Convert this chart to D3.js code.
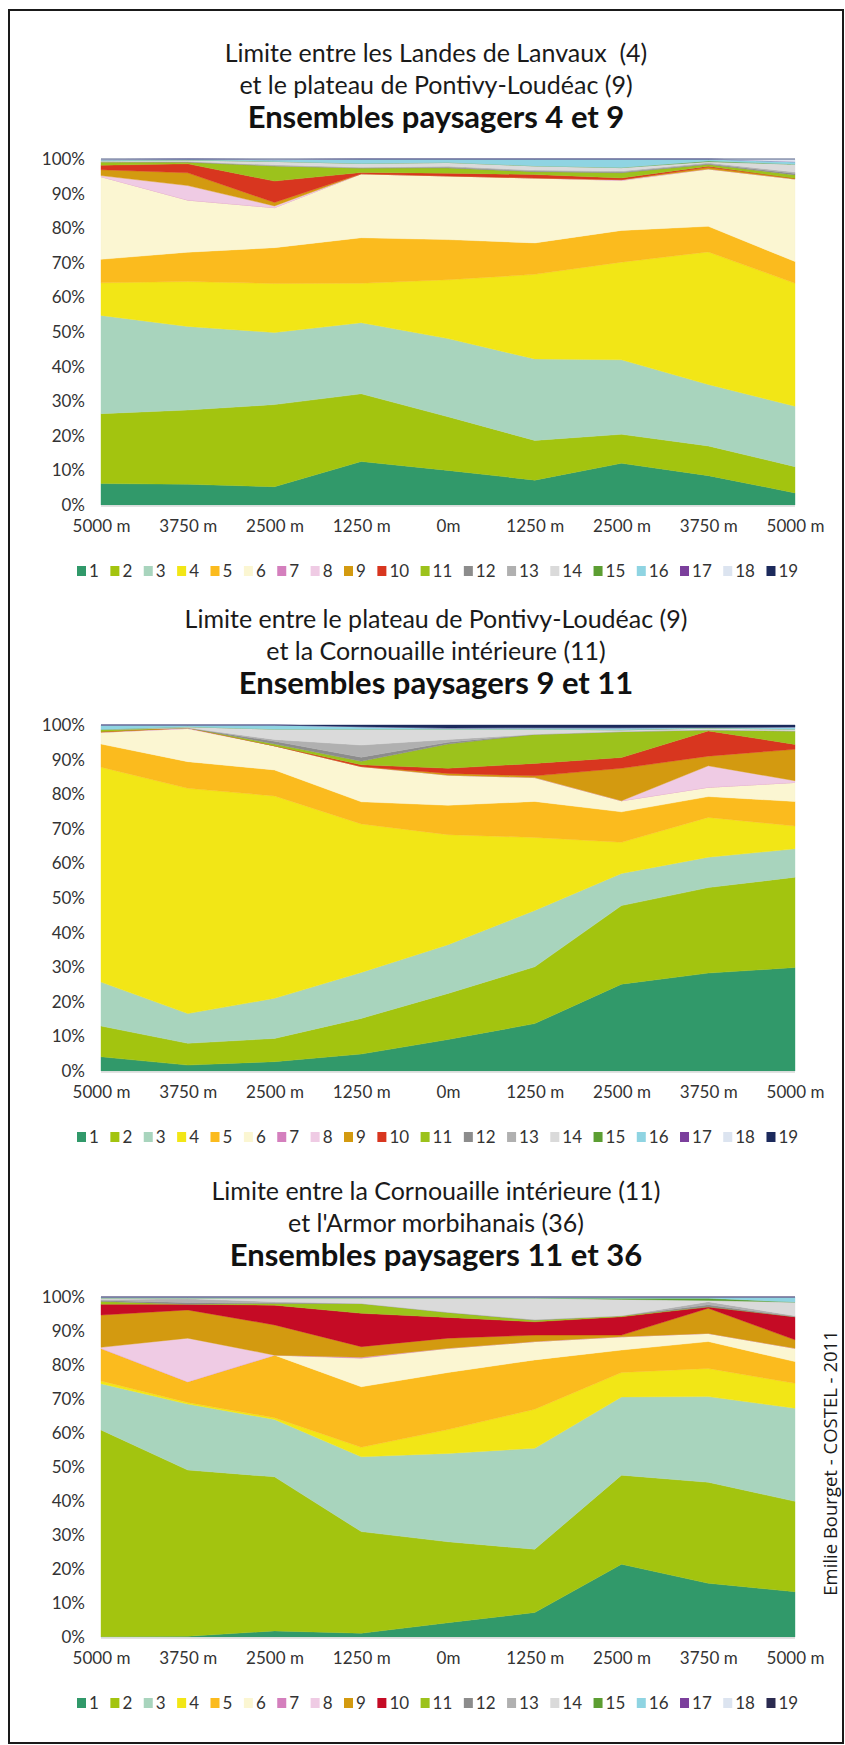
<!DOCTYPE html>
<html>
<head>
<meta charset="utf-8">
<script src="https://cdn.jsdelivr.net/npm/d3@7"></script>
<style>
  html, body { margin: 0; padding: 0; background: #fff; }
  svg { display: block; }
  text { font-family: Lato, "Open Sans", sans-serif; }
</style>
</head>
<body>
<svg id="fig" width="845" height="1745"></svg>
<script>
// Distances from the boundary between two landscape units (transect points)
const distances = ["5000 m", "3750 m", "2500 m", "1250 m", "0m", "1250 m", "2500 m", "3750 m", "5000 m"];

// Land-cover classes 1..19 shown in each legend
const classes = ["1","2","3","4","5","6","7","8","9","10","11","12","13","14","15","16","17","18","19"];

const yTicks = [0, 0.1, 0.2, 0.3, 0.4, 0.5, 0.6, 0.7, 0.8, 0.9, 1];

// Class colours (classes 1..19)
const colorsMain = ["#31996a","#a3c40f","#a8d4bd","#f2e616","#fbbb1e","#fbf6d2","#d47fbd","#efcbe4","#d39a10","#d8361f",
                    "#9cc21c","#8c8c8c","#b0b0b0","#dadada","#5c9e32","#8fd4e2","#7b3f9c","#dce4f0","#1c2a5c"];
const colorsArmor = ["#31996a","#a3c40f","#a8d4bd","#f2e616","#fbbb1e","#fbf6d2","#d47fbd","#efcbe4","#d39a10","#c50b25",
                     "#9cc21c","#8c8c8c","#b0b0b0","#dadada","#5c9e32","#8fd4e2","#7b3f9c","#dce4f0","#2b2b50"];

// Share of each class (%), one row per class, one column per distance
const sharesLanvauxPontivy = [
  [6.2, 6.0, 5.3, 12.6, 10.0, 7.2, 12.1, 8.5, 3.5],
  [20.2, 21.5, 23.8, 19.6, 15.5, 11.5, 8.4, 8.6, 7.6],
  [28.4, 24.2, 20.9, 20.6, 22.6, 23.6, 21.6, 17.8, 17.5],
  [9.4, 13.0, 14.2, 11.4, 17.0, 24.5, 28.3, 38.4, 35.6],
  [6.8, 8.5, 10.4, 13.2, 11.6, 9.1, 9.2, 7.4, 6.3],
  [23.9, 15.1, 11.6, 18.5, 18.4, 18.8, 14.5, 16.6, 23.9],
  [0, 0, 0, 0, 0, 0, 0, 0, 0],
  [0.3, 4.2, 0.5, 0, 0, 0, 0.2, 0, 0],
  [1.7, 3.7, 1.0, 0, 0, 0, 0, 0.5, 0.2],
  [1.3, 2.6, 6.2, 0.4, 0.8, 1.0, 0.5, 0.3, 0],
  [1.0, 0.5, 4.4, 1.3, 1.5, 0.8, 1.5, 0.5, 1.0],
  [0, 0, 0, 0, 0.2, 0.2, 0.2, 0.2, 0.4],
  [0, 0.2, 0.3, 0.2, 0.3, 0.3, 0.3, 0.3, 0.4],
  [0.3, 0.4, 1.0, 1.1, 1.1, 1.2, 1.0, 0.3, 2.3],
  [0, 0, 0, 0, 0, 0, 0, 0.2, 0],
  [0.3, 0.3, 0.5, 1.3, 1.0, 2.0, 2.5, 0.6, 0.7],
  [0, 0, 0, 0, 0, 0, 0, 0, 0],
  [0.2, 0, 0.2, 0, 0, 0, 0, 0, 0.8],
  [0, 0, 0, 0, 0, 0, 0, 0, 0]
];

const sharesPontivyCornouaille = [
  [4.1, 1.7, 2.7, 4.9, 9.1, 13.7, 25.1, 28.3, 29.9],
  [8.9, 6.3, 6.7, 10.3, 13.3, 16.4, 22.7, 24.7, 26.1],
  [12.7, 8.6, 11.6, 13.3, 14.1, 16.3, 9.3, 8.8, 8.2],
  [62.1, 65.1, 58.5, 42.9, 31.8, 21.1, 9.0, 11.5, 6.6],
  [6.7, 7.7, 7.5, 6.4, 8.5, 10.4, 8.8, 6.0, 7.1],
  [3.4, 9.6, 7.0, 10.2, 8.7, 6.9, 3.2, 2.7, 5.5],
  [0, 0, 0, 0, 0, 0, 0, 0, 0],
  [0, 0.2, 0, 0, 0, 0, 0, 6.2, 0.5],
  [0.2, 0, 0, 0, 0.5, 0.5, 9.4, 2.8, 9.1],
  [0, 0, 0, 0.5, 1.5, 3.6, 3.1, 7.3, 1.4],
  [0.6, 0, 0.5, 1.0, 7.0, 8.4, 7.5, 0.3, 3.9],
  [0, 0, 0.8, 1.2, 0.5, 0, 0, 0, 0],
  [0, 0, 0.5, 3.5, 0.8, 0, 0, 0, 0],
  [0, 0.3, 3.0, 4.6, 3.0, 1.5, 0.5, 0.5, 0.5],
  [0, 0, 0, 0, 0, 0, 0, 0, 0],
  [1.3, 0.5, 1.2, 0.7, 0.3, 0.4, 0.6, 0.2, 0.6],
  [0, 0, 0, 0, 0, 0, 0, 0, 0],
  [0, 0, 0, 0, 0, 0, 0, 0, 0],
  [0, 0, 0, 0.5, 0.9, 0.8, 0.8, 0.7, 0.6]
];

const sharesCornouailleArmor = [
  [0.1, 0.2, 1.8, 1.1, 4.2, 7.2, 21.4, 15.8, 13.3],
  [60.8, 48.9, 45.3, 29.9, 23.8, 18.6, 26.2, 29.7, 26.6],
  [13.6, 19.4, 16.9, 22.0, 26.0, 29.7, 23.0, 25.2, 27.4],
  [0.8, 0.5, 0.5, 2.8, 7.0, 11.5, 7.2, 8.3, 7.3],
  [9.6, 6.1, 18.4, 17.8, 16.8, 14.5, 6.6, 7.9, 6.4],
  [0, 0, 0, 8.4, 7.1, 5.4, 3.9, 2.4, 3.9],
  [0, 0, 0, 0.3, 0, 0, 0, 0, 0],
  [0.3, 12.8, 0, 0, 0, 0, 0, 0, 0],
  [9.5, 8.3, 8.9, 3.1, 3.0, 1.9, 0.5, 7.4, 2.5],
  [3.2, 1.7, 5.8, 9.8, 6.1, 3.9, 5.4, 0.4, 6.8],
  [0.8, 0, 0.5, 2.9, 1.5, 0.5, 0.3, 0, 0],
  [0.3, 0.5, 0.2, 0, 0, 0, 0, 0.6, 0],
  [0.3, 1.1, 0.3, 0, 0, 0.2, 0, 0.9, 0.3],
  [0.4, 0.2, 1.1, 1.6, 4.2, 6.3, 4.8, 0.4, 4.0],
  [0, 0, 0, 0, 0, 0, 0.3, 0.6, 0],
  [0.3, 0.3, 0.3, 0.3, 0.3, 0.3, 0.4, 0.4, 1.5],
  [0, 0, 0, 0, 0, 0, 0, 0, 0],
  [0, 0, 0, 0, 0, 0, 0, 0, 0],
  [0, 0, 0, 0, 0, 0, 0, 0, 0]
];

const titlesLanvauxPontivy = ["Limite entre les Landes de Lanvaux  (4)", "et le plateau de Pontivy-Loudéac (9)", "Ensembles paysagers 4 et 9"];
const titlesPontivyCornouaille = ["Limite entre le plateau de Pontivy-Loudéac (9)", "et la Cornouaille intérieure (11)", "Ensembles paysagers 9 et 11"];
const titlesCornouailleArmor = ["Limite entre la Cornouaille intérieure (11)", "et l'Armor morbihanais (36)", "Ensembles paysagers 11 et 36"];

const credit = "Emilie Bourget - COSTEL - 2011";

// ---- layout ----
const W = 845, H = 1745;
const plotLeft = 101, plotRight = 795, titleCx = 436;
const panels = [
  { shares: sharesLanvauxPontivy, titles: titlesLanvauxPontivy, colors: colorsMain, top: 159, bottom: 505 },
  { shares: sharesPontivyCornouaille, titles: titlesPontivyCornouaille, colors: colorsMain, top: 725, bottom: 1071 },
  { shares: sharesCornouailleArmor, titles: titlesCornouailleArmor, colors: colorsArmor, top: 1297, bottom: 1637 }
];

const svg = d3.select("#fig");
svg.append("rect").attr("width", W).attr("height", H).attr("fill", "#fff");

// outer frame
svg.append("rect")
  .attr("x", 9).attr("y", 10).attr("width", 834).attr("height", 1733)
  .attr("fill", "none").attr("stroke", "#1a1a1a").attr("stroke-width", 2);

const x = d3.scalePoint().domain(d3.range(distances.length)).range([plotLeft, plotRight]);

panels.forEach(p => {
  const g = svg.append("g");
  const y = d3.scaleLinear().domain([0, 1]).range([p.bottom, p.top]);

  // titles
  g.append("text").attr("x", titleCx).attr("y", p.top - 106).attr("dy", "0.35em")
    .attr("text-anchor", "middle").attr("font-size", 25).attr("fill", "#1a1a1a")
    .attr("xml:space", "preserve").text(p.titles[0]);
  g.append("text").attr("x", titleCx).attr("y", p.top - 74).attr("dy", "0.35em")
    .attr("text-anchor", "middle").attr("font-size", 25).attr("fill", "#1a1a1a").text(p.titles[1]);
  g.append("text").attr("x", titleCx).attr("y", p.top - 42).attr("dy", "0.35em")
    .attr("text-anchor", "middle").attr("font-size", 31).attr("font-weight", "bold").attr("fill", "#111").text(p.titles[2]);

  // 100% stacked areas
  const rows = distances.map((_, i) => {
    const r = {};
    classes.forEach((c, k) => { r[c] = p.shares[k][i]; });
    return r;
  });
  const stack = d3.stack().keys(classes).offset(d3.stackOffsetExpand).order(d3.stackOrderNone);
  const layers = stack(rows);
  const area = d3.area()
    .x((d, i) => x(i))
    .y0(d => y(d[0]))
    .y1(d => y(d[1]))
    .curve(d3.curveLinear);

  g.append("g").selectAll("path").data(layers).join("path")
    .attr("d", area)
    .attr("fill", (d, k) => p.colors[k])
    .attr("stroke", (d, k) => p.colors[k])
    .attr("stroke-width", 0.4);

  // faint base line under plot
  g.append("line").attr("x1", plotLeft).attr("x2", plotRight)
    .attr("y1", p.bottom + 1).attr("y2", p.bottom + 1)
    .attr("stroke", "#d8d8d8").attr("stroke-width", 1.5);

  // y axis
  const ya = g.append("g").attr("transform", `translate(${plotLeft},0)`)
    .call(d3.axisLeft(y).tickValues(yTicks).tickFormat(d3.format(".0%")).tickSize(0).tickPadding(16));
  ya.select(".domain").remove();
  ya.selectAll("text").attr("font-size", 17).attr("fill", "#333").style("font-family", "Lato, sans-serif");

  // x axis
  const xa = g.append("g").attr("transform", `translate(0,${p.bottom})`)
    .call(d3.axisBottom(x).tickFormat(i => distances[i]).tickSize(0).tickPadding(15));
  xa.select(".domain").remove();
  xa.selectAll("text").attr("font-size", 17).attr("fill", "#333").style("font-family", "Lato, sans-serif");

  // legend
  const lg = g.append("g").attr("transform", `translate(77,${p.bottom + 66})`);
  let cx = 0;
  classes.forEach((c, k) => {
    const item = lg.append("g").attr("transform", `translate(${cx},0)`);
    item.append("rect").attr("x", 0).attr("y", -5).attr("width", 9).attr("height", 10).attr("fill", p.colors[k]);
    const t = item.append("text").attr("x", 12).attr("y", 0).attr("dy", "0.35em")
      .attr("font-size", 17).attr("fill", "#333").text(c);
    cx += 12 + t.node().getComputedTextLength() + 11.5;
  });
});

// author credit, vertical on the right
svg.append("text")
  .attr("transform", "translate(831,1463) rotate(-90)")
  .attr("text-anchor", "middle").attr("dy", "0.35em")
  .attr("font-size", 18.5).attr("fill", "#1a1a1a")
  .style("font-family", "'Open Sans', sans-serif")
  .text(credit);
</script>
</body>
</html>
